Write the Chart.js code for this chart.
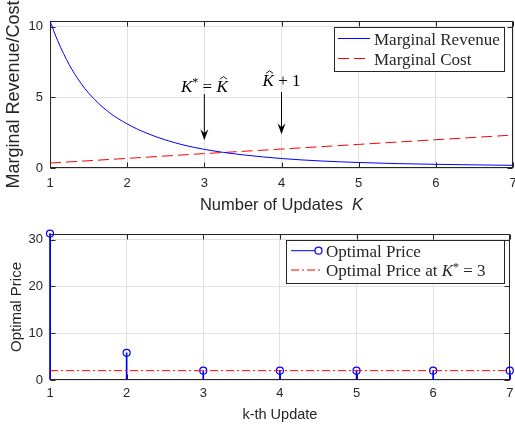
<!DOCTYPE html>
<html>
<head>
<meta charset="utf-8">
<script src="https://cdn.jsdelivr.net/npm/chart.js@4.4.1/dist/chart.umd.min.js"></script>
<style>
  html, body { margin: 0; padding: 0; background: #fff; }
  .panel { position: absolute; left: 0; width: 515px; }
  #top { top: 0; height: 215px; }
  #bottom { top: 215px; height: 211px; }
</style>
</head>
<body>
<div class="panel" id="top"><canvas id="revenueChart" width="515" height="215"></canvas></div>
<div class="panel" id="bottom"><canvas id="priceChart" width="515" height="211"></canvas></div>
<script>
// values
const xTicks = [1, 2, 3, 4, 5, 6, 7];
const revenueYTicks = [0, 5, 10];
const priceYTicks = [0, 10, 20, 30];

const revenueK = [1, 1.1, 1.25, 1.4, 1.5, 1.75, 2, 2.25, 2.5, 2.75, 3, 3.25, 3.5, 3.75, 4, 4.5, 5, 5.5, 6, 6.5, 7];
const marginalRevenue = [10.4, 9.0, 7.3, 6.0, 5.3, 4.0, 3.12, 2.47, 1.98, 1.6, 1.32, 1.1, 0.93, 0.79, 0.67, 0.5, 0.39, 0.31, 0.26, 0.22, 0.19];

const costK = [1, 2, 3, 4, 5, 6, 7];
const marginalCost = [0.35, 0.68, 1.02, 1.34, 1.67, 2.0, 2.33];

const updates = [1, 2, 3, 4, 5, 6, 7];
const optimalPrice = [31.3, 5.8, 2.0, 2.0, 2.0, 2.0, 2.0];
const kStarUpdates = [1, 7];
const priceAtKStar = [2.0, 2.0];

const sansFont = '"Liberation Sans", Arial, Helvetica, sans-serif';
const serifFont = '"Liberation Serif", "Times New Roman", serif';
const ink = "#262626";
const gridColor = "#e2e2e2";
const blue = "#0000ff";
const red = "#ff0000";

const toPoints = (xs, ys) => xs.map((x, i) => ({ x: x, y: ys[i] }));
const fixedTicks = (values) => (scale) => {
  scale.ticks = values.map((v) => ({ value: v }));
};

// text made of roman / italic / superscript pieces, LaTeX style
const drawRuns = (ctx, runs, x, baseline, size, align) => {
  const fontFor = (r) =>
    (r.italic ? "italic " : "") + (r.sup ? Math.round(size * 0.72) : size) + "px " + (r.family || serifFont);
  let width = 0;
  runs.forEach((r) => {
    ctx.font = fontFor(r);
    r.w = ctx.measureText(r.text).width;
    width += r.w;
  });
  let cx = align === "center" ? x - width / 2 : x;
  ctx.textAlign = "left";
  ctx.textBaseline = "alphabetic";
  runs.forEach((r) => {
    ctx.font = fontFor(r);
    ctx.fillText(r.text, cx, r.sup ? baseline - size * 0.32 : baseline);
    if (r.hat) {
      const hx = cx + r.w * 0.62;
      const hy = baseline - size * 0.66 - 4;
      ctx.beginPath();
      ctx.moveTo(hx - 3.5, hy + 2.5);
      ctx.lineTo(hx, hy);
      ctx.lineTo(hx + 3.5, hy + 2.5);
      ctx.lineWidth = 0.9;
      ctx.stroke();
    }
    cx += r.w;
  });
};

const drawSample = (ctx, row, x0, x1) => {
  ctx.save();
  ctx.strokeStyle = row.color;
  ctx.lineWidth = 1;
  ctx.setLineDash(row.dash || []);
  ctx.beginPath();
  ctx.moveTo(x0, row.y);
  ctx.lineTo(row.marker ? x1 - 7 : x1, row.y);
  ctx.stroke();
  if (row.marker) {
    ctx.setLineDash([]);
    ctx.lineWidth = 1.2;
    ctx.beginPath();
    ctx.arc(x1 - 3.5, row.y, 3.5, 0, Math.PI * 2);
    ctx.stroke();
  }
  ctx.restore();
};

const drawLegend = (ctx, legend) => {
  const b = legend.box;
  ctx.fillStyle = "#fff";
  ctx.fillRect(b.x, b.y, b.w, b.h);
  ctx.strokeStyle = ink;
  ctx.lineWidth = 1;
  ctx.strokeRect(b.x + 0.5, b.y + 0.5, b.w, b.h);
  legend.rows.forEach((row) => {
    drawSample(ctx, row, legend.sampleX0, legend.sampleX1);
    ctx.fillStyle = ink;
    ctx.strokeStyle = ink;
    drawRuns(ctx, row.runs, legend.textX, row.y + 6, 17, "left");
  });
};

const matlabAxes = {
  id: "matlabAxes",
  // box with inward ticks on all four sides, under the data
  beforeDatasetsDraw(chart) {
    const { ctx, chartArea: a } = chart;
    const x = chart.scales.x;
    const y = chart.scales.y;
    ctx.save();
    const L = Math.round(a.left) + 0.5;
    const R = Math.round(a.right) - 0.5;
    const T = Math.round(a.top) + 0.5;
    const B = Math.round(a.bottom) - 0.5;
    ctx.strokeStyle = ink;
    ctx.lineWidth = 1;
    ctx.strokeRect(L, T, R - L, B - T);
    ctx.beginPath();
    x.ticks.forEach((t) => {
      const px = Math.round(x.getPixelForValue(t.value)) + 0.5;
      ctx.moveTo(px, B);
      ctx.lineTo(px, B - 5);
      ctx.moveTo(px, T);
      ctx.lineTo(px, T + 5);
    });
    y.ticks.forEach((t) => {
      const py = Math.round(y.getPixelForValue(t.value)) + 0.5;
      ctx.moveTo(L, py);
      ctx.lineTo(L + 5, py);
      ctx.moveTo(R, py);
      ctx.lineTo(R - 5, py);
    });
    ctx.stroke();
    ctx.restore();
  },
  afterDraw(chart, args, opts) {
    const { ctx, chartArea: a } = chart;
    const x = chart.scales.x;
    const y = chart.scales.y;
    ctx.save();

    (opts.arrows || []).forEach((ar) => {
      const px = x.getPixelForValue(ar.x);
      const y0 = y.getPixelForValue(ar.from);
      const y1 = y.getPixelForValue(ar.to);
      ctx.strokeStyle = "#000";
      ctx.fillStyle = "#000";
      ctx.lineWidth = 1;
      ctx.beginPath();
      ctx.moveTo(px, y0);
      ctx.lineTo(px, y1 - 6);
      ctx.stroke();
      ctx.beginPath();
      ctx.moveTo(px, y1);
      ctx.lineTo(px - 4, y1 - 11);
      ctx.lineTo(px, y1 - 7);
      ctx.lineTo(px + 4, y1 - 11);
      ctx.closePath();
      ctx.fill();
    });

    (opts.notes || []).forEach((n) => {
      ctx.fillStyle = "#000";
      ctx.strokeStyle = "#000";
      drawRuns(ctx, n.runs, x.getPixelForValue(n.x), y.getPixelForValue(n.y), 17, "center");
    });

    if (opts.legend) drawLegend(ctx, opts.legend);

    if (opts.xTitle) {
      ctx.fillStyle = ink;
      ctx.strokeStyle = ink;
      drawRuns(ctx, opts.xTitle.runs, (a.left + a.right) / 2, opts.xTitle.baseline, opts.xTitle.size, "center");
    }
    ctx.restore();
  },
};

const tickFont = { family: sansFont, size: 13 };

new Chart("revenueChart", {
  type: "line",
  data: {
    datasets: [
      {
        label: "Marginal Revenue",
        data: toPoints(revenueK, marginalRevenue),
        borderColor: blue,
        borderWidth: 1,
        pointRadius: 0,
        cubicInterpolationMode: "monotone",
        fill: false,
      },
      {
        label: "Marginal Cost",
        data: toPoints(costK, marginalCost),
        borderColor: red,
        borderWidth: 1,
        borderDash: [11, 5],
        pointRadius: 0,
        fill: false,
      },
    ],
  },
  options: {
    responsive: false,
    animation: false,
    events: [],
    layout: { padding: { top: 21, right: 2, left: 0, bottom: 0 } },
    plugins: {
      legend: { display: false },
      tooltip: { enabled: false },
      matlabAxes: {
        arrows: [
          { x: 3, from: 5.23, to: 1.96 },
          { x: 4, from: 5.37, to: 2.39 },
        ],
        notes: [
          { x: 3, y: 5.39, runs: [{ text: "K", italic: true }, { text: "*", sup: true }, { text: " = " }, { text: "K", italic: true, hat: true }] },
          { x: 4, y: 5.8, runs: [{ text: "K", italic: true, hat: true }, { text: " + 1" }] },
        ],
        legend: {
          box: { x: 334, y: 27, w: 170, h: 44 },
          sampleX0: 338,
          sampleX1: 370,
          textX: 374,
          rows: [
            { y: 38.5, color: blue, runs: [{ text: "Marginal Revenue" }] },
            { y: 58.5, color: red, dash: [11, 5], runs: [{ text: "Marginal Cost" }] },
          ],
        },
        xTitle: {
          baseline: 210,
          size: 16.5,
          runs: [
            { text: "Number of Updates  ", family: sansFont },
            { text: "K", italic: true, family: sansFont },
          ],
        },
      },
    },
    scales: {
      x: {
        type: "linear",
        min: 1,
        max: 7,
        afterBuildTicks: fixedTicks(xTicks),
        afterFit: (s) => {
          s.height = 47;
          s.paddingLeft = 0;
          s.paddingRight = 0;
        },
        grid: { color: gridColor, drawTicks: false },
        border: { display: false },
        ticks: { font: tickFont, color: ink, padding: 8, maxRotation: 0 },
      },
      y: {
        min: 0,
        max: 10.4,
        afterBuildTicks: fixedTicks(revenueYTicks),
        afterFit: (s) => {
          s.width = 50;
        },
        grid: { color: gridColor, drawTicks: false },
        border: { display: false },
        ticks: { font: tickFont, color: ink, padding: 7 },
        title: {
          display: true,
          text: "Marginal Revenue/Cost",
          font: { family: sansFont, size: 18 },
          color: ink,
          padding: { top: 3, bottom: 0 },
        },
      },
    },
  },
  plugins: [matlabAxes],
});

new Chart("priceChart", {
  type: "line",
  data: {
    datasets: [
      {
        type: "line",
        label: "Optimal Price at K* = 3",
        data: toPoints(kStarUpdates, priceAtKStar),
        borderColor: red,
        borderWidth: 1,
        borderDash: [8, 3, 2, 3],
        pointRadius: 0,
        fill: false,
        order: 1,
      },
      {
        type: "line",
        label: "Optimal Price",
        data: toPoints(updates, optimalPrice),
        showLine: false,
        pointStyle: "circle",
        pointRadius: 3.5,
        pointBorderWidth: 1.2,
        pointBorderColor: blue,
        pointBackgroundColor: "rgba(0,0,0,0)",
        clip: false,
        order: 2,
      },
      {
        type: "bar",
        label: "stems",
        data: toPoints(updates, optimalPrice),
        backgroundColor: blue,
        barThickness: 1,
        clip: false,
        order: 3,
      },
    ],
  },
  options: {
    responsive: false,
    animation: false,
    events: [],
    layout: { padding: { top: 19, right: 2, left: 0, bottom: 0 } },
    plugins: {
      legend: { display: false },
      tooltip: { enabled: false },
      matlabAxes: {
        legend: {
          box: { x: 286, y: 25, w: 218, h: 43 },
          sampleX0: 291,
          sampleX1: 322,
          textX: 326,
          rows: [
            { y: 35.7, color: blue, marker: true, runs: [{ text: "Optimal Price" }] },
            {
              y: 55,
              color: red,
              dash: [8, 3, 2, 3],
              runs: [{ text: "Optimal Price at " }, { text: "K", italic: true }, { text: "*", sup: true }, { text: " = 3" }],
            },
          ],
        },
      },
    },
    scales: {
      x: {
        type: "linear",
        min: 1,
        max: 7,
        offset: false,
        afterBuildTicks: fixedTicks(xTicks),
        afterFit: (s) => {
          s.height = 46;
          s.paddingLeft = 0;
          s.paddingRight = 0;
        },
        grid: { color: gridColor, drawTicks: false, offset: false },
        border: { display: false },
        ticks: { font: tickFont, color: ink, padding: 6, maxRotation: 0 },
        title: {
          display: true,
          text: "k-th Update",
          font: { family: sansFont, size: 14.5 },
          color: ink,
          padding: { top: 0, bottom: 2 },
        },
      },
      y: {
        min: 0,
        max: 31.2,
        afterBuildTicks: fixedTicks(priceYTicks),
        afterFit: (s) => {
          s.width = 50;
        },
        grid: { color: gridColor, drawTicks: false },
        border: { display: false },
        ticks: { font: tickFont, color: ink, padding: 7 },
        title: {
          display: true,
          text: "Optimal Price",
          font: { family: sansFont, size: 15 },
          color: ink,
          padding: { top: 8, bottom: 0 },
        },
      },
    },
  },
  plugins: [matlabAxes],
});
</script>
</body>
</html>
